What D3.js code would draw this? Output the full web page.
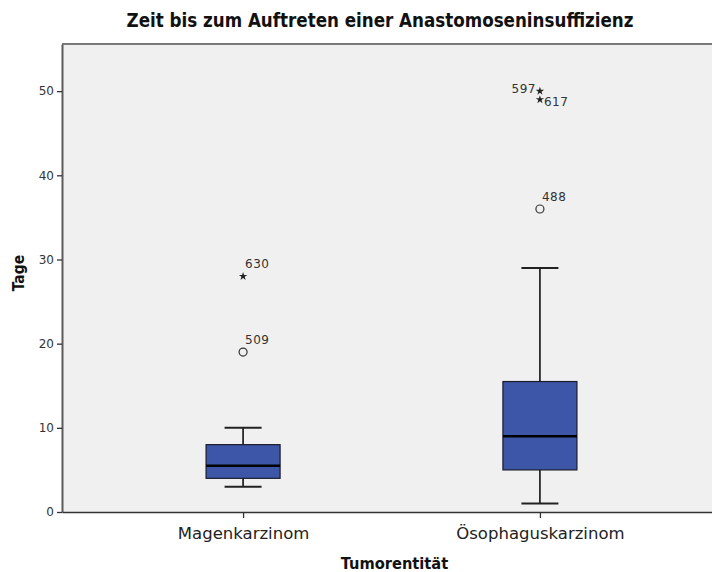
<!DOCTYPE html>
<html>
<head>
<meta charset="utf-8">
<script src="https://cdn.jsdelivr.net/npm/d3@7"></script>
<style>
  html, body { margin: 0; padding: 0; background: #ffffff; }
  svg { display: block; }
</style>
</head>
<body>
<svg id="chart" width="712" height="572"></svg>
<script>
// ---- data ----
const categories = ["Magenkarzinom", "Ösophaguskarzinom"];
const whiskerLow  = [3, 1];
const q1          = [4, 5];
const median      = [5.5, 9];
const q3          = [8, 15.5];
const whiskerHigh = [10, 29];

const outlierCategory = ["Magenkarzinom", "Magenkarzinom", "Ösophaguskarzinom", "Ösophaguskarzinom", "Ösophaguskarzinom"];
const outlierValue    = [28, 19, 50, 49, 36];
const outlierId       = ["630", "509", "597", "617", "488"];
const outlierKind     = ["extreme", "outlier", "extreme", "extreme", "outlier"];

const yTicks = [0, 10, 20, 30, 40, 50];

const title = "Zeit bis zum Auftreten einer Anastomoseninsuffizienz";
const xTitle = "Tumorentität";
const yTitle = "Tage";

// ---- layout / style ----
const plot = { left: 62, top: 44, right: 721, bottom: 512 };
const labelPlacement = { // side of label relative to marker
  "630": "right", "509": "right", "597": "left", "617": "rightBelow", "488": "right"
};
const boxFill = "#3d56a8";
const plotBg = "#f0f0f0";

const svg = d3.select("#chart");

const x = d3.scalePoint()
  .domain(categories)
  .range([plot.left, plot.right])
  .padding(0.61);

const y = d3.scaleLinear()
  .domain([0, 55.6])
  .range([plot.bottom, plot.top]);

const boxWidth = 74;
const capWidth = 37;

// background
svg.append("rect")
  .attr("x", plot.left).attr("y", plot.top)
  .attr("width", plot.right - plot.left).attr("height", plot.bottom - plot.top)
  .attr("fill", plotBg);

// frame line (top)
svg.append("line")
  .attr("x1", plot.left).attr("x2", plot.right)
  .attr("y1", plot.top).attr("y2", plot.top)
  .attr("stroke", "#7a7a7a").attr("stroke-width", 2);

// y axis
const yAxis = svg.append("g")
  .attr("transform", `translate(${plot.left},0)`)
  .call(d3.axisLeft(y).tickValues(yTicks).tickSize(5).tickSizeOuter(0).tickPadding(3).tickFormat(d3.format("d")));
yAxis.select(".domain").attr("stroke", "#5a5a5a").attr("stroke-width", 2);
yAxis.selectAll(".tick line").attr("stroke", "#333").attr("stroke-width", 1.3);
yAxis.selectAll(".tick text")
  .attr("font-family", "DejaVu Sans, sans-serif")
  .attr("font-size", 12)
  .attr("fill", "#333333");

// x axis
const xAxis = svg.append("g")
  .attr("transform", `translate(0,${plot.bottom})`)
  .call(d3.axisBottom(x).tickSize(6).tickPadding(9).tickSizeOuter(0));
xAxis.select(".domain").attr("stroke", "#333").attr("stroke-width", 1.5);
xAxis.selectAll(".tick line").attr("stroke", "#333").attr("stroke-width", 1.3);
xAxis.selectAll(".tick text")
  .attr("font-family", "DejaVu Sans, sans-serif")
  .attr("font-size", 16.5)
  .attr("fill", "#222");

// boxes
const boxes = svg.append("g");
categories.forEach((c, i) => {
  const cx = x(c);
  const g = boxes.append("g");
  // whiskers
  g.append("line")
    .attr("x1", cx).attr("x2", cx)
    .attr("y1", y(q3[i])).attr("y2", y(whiskerHigh[i]))
    .attr("stroke", "#111").attr("stroke-width", 1.6);
  g.append("line")
    .attr("x1", cx).attr("x2", cx)
    .attr("y1", y(q1[i])).attr("y2", y(whiskerLow[i]))
    .attr("stroke", "#111").attr("stroke-width", 1.6);
  [whiskerHigh[i], whiskerLow[i]].forEach(v => {
    g.append("line")
      .attr("x1", cx - capWidth / 2).attr("x2", cx + capWidth / 2)
      .attr("y1", y(v)).attr("y2", y(v))
      .attr("stroke", "#222").attr("stroke-width", 2);
  });
  // box
  g.append("rect")
    .attr("x", cx - boxWidth / 2).attr("width", boxWidth)
    .attr("y", y(q3[i])).attr("height", y(q1[i]) - y(q3[i]))
    .attr("fill", boxFill).attr("stroke", "#1a1a2a").attr("stroke-width", 1.2);
  // median
  g.append("line")
    .attr("x1", cx - boxWidth / 2).attr("x2", cx + boxWidth / 2)
    .attr("y1", y(median[i])).attr("y2", y(median[i]))
    .attr("stroke", "#000").attr("stroke-width", 2.5);
});

// outliers
const outG = svg.append("g");
const star = d3.symbol().type(d3.symbolStar).size(22);
outlierValue.forEach((v, i) => {
  const cx = x(outlierCategory[i]);
  const cy = y(v);
  if (outlierKind[i] === "extreme") {
    outG.append("path")
      .attr("d", star())
      .attr("transform", `translate(${cx},${cy})`)
      .attr("fill", "#222");
  } else {
    outG.append("circle")
      .attr("cx", cx).attr("cy", cy).attr("r", 4)
      .attr("fill", "none").attr("stroke", "#333").attr("stroke-width", 1.2);
  }
  const place = labelPlacement[outlierId[i]];
  let tx = cx + 2, ty = cy - 8, anchor = "start";
  if (place === "left") { tx = cx - 4; ty = cy + 2; anchor = "end"; }
  if (place === "rightBelow") { tx = cx + 4; ty = cy + 6; anchor = "start"; }
  outG.append("text")
    .attr("x", tx).attr("y", ty)
    .attr("text-anchor", anchor)
    .attr("font-family", "DejaVu Sans, sans-serif")
    .attr("font-size", 12)
    .attr("letter-spacing", 0.5)
    .attr("fill", "#333")
    .text(outlierId[i]);
});

// titles
svg.append("text")
  .attr("x", 380).attr("y", 27)
  .attr("text-anchor", "middle")
  .attr("font-family", "DejaVu Sans Condensed, DejaVu Sans, sans-serif")
  .attr("font-stretch", "condensed")
  .attr("font-weight", "bold")
  .attr("font-size", 18.6)
  .attr("fill", "#111")
  .text(title);

svg.append("text")
  .attr("x", (plot.left + plot.right) / 2 + 3).attr("y", 569)
  .attr("text-anchor", "middle")
  .attr("font-family", "DejaVu Sans Condensed, DejaVu Sans, sans-serif")
  .attr("font-stretch", "condensed")
  .attr("font-weight", "bold")
  .attr("font-size", 16.3)
  .attr("fill", "#111")
  .text(xTitle);

svg.append("text")
  .attr("transform", `translate(24,${273}) rotate(-90)`)
  .attr("text-anchor", "middle")
  .attr("font-family", "DejaVu Sans Condensed, DejaVu Sans, sans-serif")
  .attr("font-stretch", "condensed")
  .attr("font-weight", "bold")
  .attr("font-size", 15.5)
  .attr("fill", "#111")
  .text(yTitle);
</script>
</body>
</html>
